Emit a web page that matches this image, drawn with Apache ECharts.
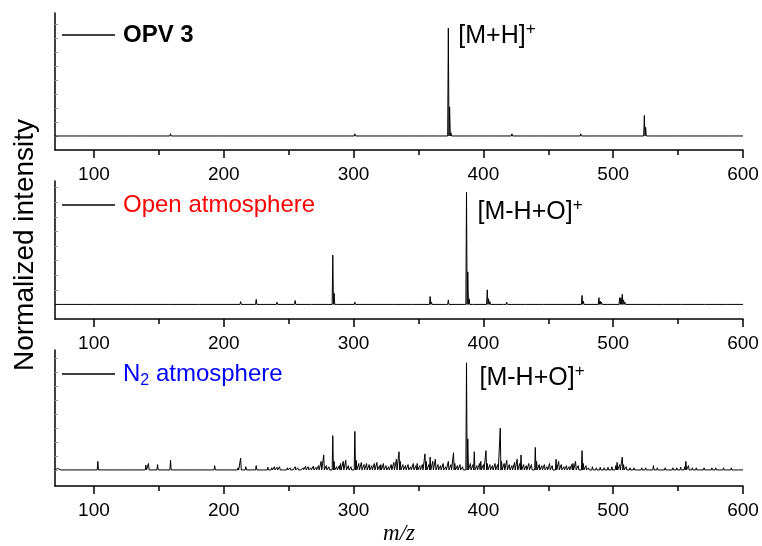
<!DOCTYPE html>
<html>
<head>
<meta charset="utf-8">
<script src="https://cdn.jsdelivr.net/npm/echarts@6/dist/echarts.min.js"></script>
<style>
  html, body { margin: 0; padding: 0; background: #fff; }
  #chart { width: 762px; height: 546px; }
</style>
</head>
<body>
<div id="chart"></div>
<script>
// m/z axis ticks
const mzTicks = [100, 200, 300, 400, 500, 600];
const mzMinorTicks = [150, 250, 350, 450, 550];
const intensityTicks = [0, 13, 26, 39, 52, 65, 78, 91, 104];

// OPV 3 reference spectrum: peak m/z and normalized intensity (%)
const opvMz  = [95, 131, 159, 197, 227, 294, 301, 330, 345, 358, 366, 373, 374, 375, 387, 395, 398, 405, 422, 423, 430, 447, 475, 490, 524, 525, 529, 550, 551, 575, 590];
const opvInt = [0.5, 0.5, 2, 0.5, 0.5, 1.5, 2, 0.5, 0.7, 0.8, 0.8, 100, 27, 3, 1, 1.5, 1, 1, 2, 1, 1.2, 0.7, 2, 0.7, 19, 8, 1, 1.5, 1, 0.5, 0.5];

// Degradation in open atmosphere
const airMz  = [76, 102, 130, 159, 181, 213, 225, 241, 255, 268, 284, 285, 287, 301, 303, 317, 331, 345, 359, 360, 373, 374, 387, 388, 389, 391, 403, 404, 405, 416, 418, 421, 433, 447, 461, 476, 477, 489, 490, 491, 505, 506, 507, 508, 509, 522, 539, 553, 571, 588];
const airInt = [0.5, 1.5, 0.5, 0.8, 0.5, 2.5, 4.5, 2, 3.5, 0.8, 44, 10, 1.5, 2, 1, 0.8, 0.8, 1, 7, 2, 4, 1.5, 100, 29, 5, 1, 13, 5, 2.5, 1.5, 2, 1, 0.8, 0.8, 0.8, 8, 3, 6, 3, 2, 6, 6, 9, 4, 2, 1.5, 1.5, 0.8, 0.8, 0.8];

// Degradation under N2 atmosphere
const n2Mz  = [72, 75, 78, 91, 103, 115, 128, 140, 142, 149, 152, 159, 165, 178, 191, 193, 205, 211, 213, 217, 225, 231, 234, 237, 239, 241, 243, 246, 249,
  251, 253, 255, 257, 259, 261, 263, 265, 267, 269, 271, 273, 275, 277, 279, 281, 284, 285, 287, 289, 290, 292, 294, 296, 298,
  301, 302, 304, 306, 308, 310, 312, 314, 316, 318, 320, 321, 323, 325, 327, 329, 331, 333, 335, 336, 338, 340, 342, 344, 346, 348, 349,
  351, 353, 355, 356, 358, 359, 361, 363, 365, 367, 369, 371, 373, 375, 377, 378, 380, 382, 384, 387, 388, 390, 392, 393, 395, 397, 398,
  400, 402, 403, 405, 407, 409, 411, 413, 414, 416, 418, 420, 422, 424, 426, 428, 429, 431, 433, 435, 437, 440, 441, 443, 445, 447, 449,
  451, 453, 456, 458, 460, 462, 464, 466, 468, 469, 471, 473, 476, 477, 479, 481, 484, 487, 490, 493, 496, 499,
  502, 503, 505, 507, 508, 510, 513, 516, 519, 522, 525, 528, 531, 534, 537, 540, 543, 546, 549,
  552, 555, 556, 558, 561, 564, 567, 570, 573, 576, 579, 582, 585, 588, 591, 594, 597];
const n2Int = [1.5, 1, 1, 1, 8, 1, 1.5, 4.5, 6, 5, 1, 9, 1, 1, 1.5, 4, 1.5, 2, 11, 3, 4, 1.5, 2.5, 2, 3, 2.5, 3, 1.5, 2,
  2, 1.5, 3, 2, 1.5, 2, 3.5, 3, 2, 3.5, 2.5, 4, 8, 14, 4, 3, 32, 8, 3, 4, 6, 8, 9, 4, 3,
  36, 9, 6, 7, 5, 6, 5, 4, 6, 7, 4, 5, 6, 4, 3, 5, 7, 10, 17, 8, 5, 4, 5, 3, 6, 4, 6,
  4, 5, 15, 8, 5, 12, 8, 10, 5, 4, 6, 3, 8, 5, 16, 6, 4, 5, 3, 100, 29, 6, 5, 17, 4, 6, 8,
  5, 18, 6, 5, 4, 6, 5, 39, 8, 6, 9, 5, 4, 7, 10, 6, 14, 5, 4, 6, 5, 21, 8, 5, 4, 5, 3,
  6, 4, 10, 8, 5, 3, 4, 3, 5, 6, 8, 4, 18, 6, 4, 2, 3, 2, 2.5, 2, 2.5, 3,
  4, 7, 5, 12, 5, 3, 2, 2, 1.5, 2, 2, 1.5, 4, 2, 1.5, 2, 1.5, 2, 2,
  2.5, 3, 8, 4, 2, 2, 1.5, 2, 1.5, 2, 2, 1.5, 2, 1.5, 2, 1.5, 1.5];

// Turn a stick list into a continuous trace with narrow peaks on a zero baseline
function trace(mz, inten) {
  const pts = [[70, 0]];
  mz.forEach((m, i) => {
    pts.push([m - 0.5, 0], [m, inten[i]], [m + 0.5, 0]);
  });
  pts.push([600, 0]);
  return pts;
}

const panels = [
  { name: 'OPV 3', mz: opvMz, inten: opvInt, top: 13, height: 137, yMin: -13, yMax: 114,
    peak: 373, tag: '{a|[M+H]}{s|+}', tagPos: [10, 8], legendTop: 23,
    legendText: { color: '#000', fontWeight: 'bold' } },
  { name: 'Open atmosphere', mz: airMz, inten: airInt, top: 181, height: 138, yMin: -13, yMax: 110,
    peak: 387, tag: '{a|[M-H+O]}{s|+}', tagPos: [11, 20], legendTop: 193,
    legendText: { color: '#ff0000' } },
  { name: 'N2 atmosphere', mz: n2Mz, inten: n2Int, top: 350, height: 136, yMin: -15, yMax: 112,
    peak: 387, tag: '{a|[M-H+O]}{s|+}', tagPos: [13, 15], legendTop: 362,
    legendText: { color: '#0000ff' } }
];

const FONT = '"Liberation Sans", Arial, sans-serif';

const grid = [], xAxis = [], yAxis = [], series = [], legend = [];
panels.forEach((p, i) => {
  grid.push({ left: 55, right: 19, top: p.top, height: p.height, containLabel: false });
  xAxis.push({
    type: 'value', gridIndex: i, min: 70, max: 600, position: 'bottom',
    axisLine: { onZero: false, lineStyle: { color: '#000', width: 1.5 } },
    axisTick: { customValues: mzTicks, length: 8, lineStyle: { color: '#000', width: 1.5 } },
    axisLabel: { customValues: mzTicks, color: '#000', fontSize: 19, fontFamily: FONT, margin: 15 },
    splitLine: { show: false },
    name: i === 2 ? 'm/z' : '', nameLocation: 'middle', nameGap: 36,
    nameTextStyle: { fontFamily: '"Liberation Serif", "Times New Roman", serif', fontStyle: 'italic', fontSize: 23, color: '#000' }
  });
  xAxis.push({
    type: 'value', gridIndex: i, min: 70, max: 600, position: 'bottom',
    axisLine: { show: false, onZero: false },
    axisTick: { customValues: mzMinorTicks, length: 5, lineStyle: { color: '#000', width: 1.5 } },
    axisLabel: { show: false },
    splitLine: { show: false }
  });
  yAxis.push({
    type: 'value', gridIndex: i, min: p.yMin, max: p.yMax,
    axisLine: { show: true, onZero: false, lineStyle: { color: '#000', width: 1.5 } },
    axisTick: { show: true, inside: true, length: 3, customValues: intensityTicks, lineStyle: { color: '#999', width: 1 } },
    axisLabel: { show: false },
    splitLine: { show: false }
  });
  series.push({
    name: p.name, type: 'line', xAxisIndex: 2 * i, yAxisIndex: i,
    data: trace(p.mz, p.inten),
    showSymbol: false, symbol: 'none', animation: false, sampling: null,
    lineStyle: { color: '#000', width: 1 }, itemStyle: { color: '#000' },
    markPoint: {
      symbol: 'circle', symbolSize: 0, animation: false,
      data: [{ coord: [p.peak, p.inten[p.mz.indexOf(p.peak)]] }],
      label: {
        show: true, position: p.tagPos, align: 'left', verticalAlign: 'middle',
        formatter: p.tag,
        rich: {
          a: { fontSize: 25, lineHeight: 30, fontFamily: FONT, color: '#000' },
          s: { fontSize: 17, lineHeight: 8, fontFamily: FONT, color: '#000', verticalAlign: 'top' }
        }
      }
    }
  });
  legend.push({
    data: [p.name], left: 62, top: p.legendTop, padding: 0,
    icon: 'rect', itemWidth: 53, itemHeight: 1.3, itemGap: 0,
    itemStyle: { color: '#000' },
    textStyle: Object.assign({ fontSize: 24, fontFamily: FONT, padding: [0, 0, 0, 3],
      rich: {
        n: { fontSize: 24, fontFamily: FONT, color: '#0000ff' },
        sub: { fontSize: 16, fontFamily: FONT, color: '#0000ff', verticalAlign: 'bottom', padding: [14, 0, 0, 0] }
      } }, p.legendText),
    formatter: name => name === 'N2 atmosphere' ? '{n|N}{sub|2}{n| atmosphere}' : name
  });
});

const chart = echarts.init(document.getElementById('chart'), null, { renderer: 'canvas' });
chart.setOption({
  backgroundColor: '#fff',
  animation: false,
  grid, xAxis, yAxis, series, legend,
  graphic: [{
    type: 'text', x: 25, y: 245, rotation: Math.PI / 2,
    style: { text: 'Normalized intensity', font: '28px "Liberation Sans", Arial, sans-serif',
      fill: '#000', align: 'center', verticalAlign: 'middle' }
  }]
});
</script>
</body>
</html>
